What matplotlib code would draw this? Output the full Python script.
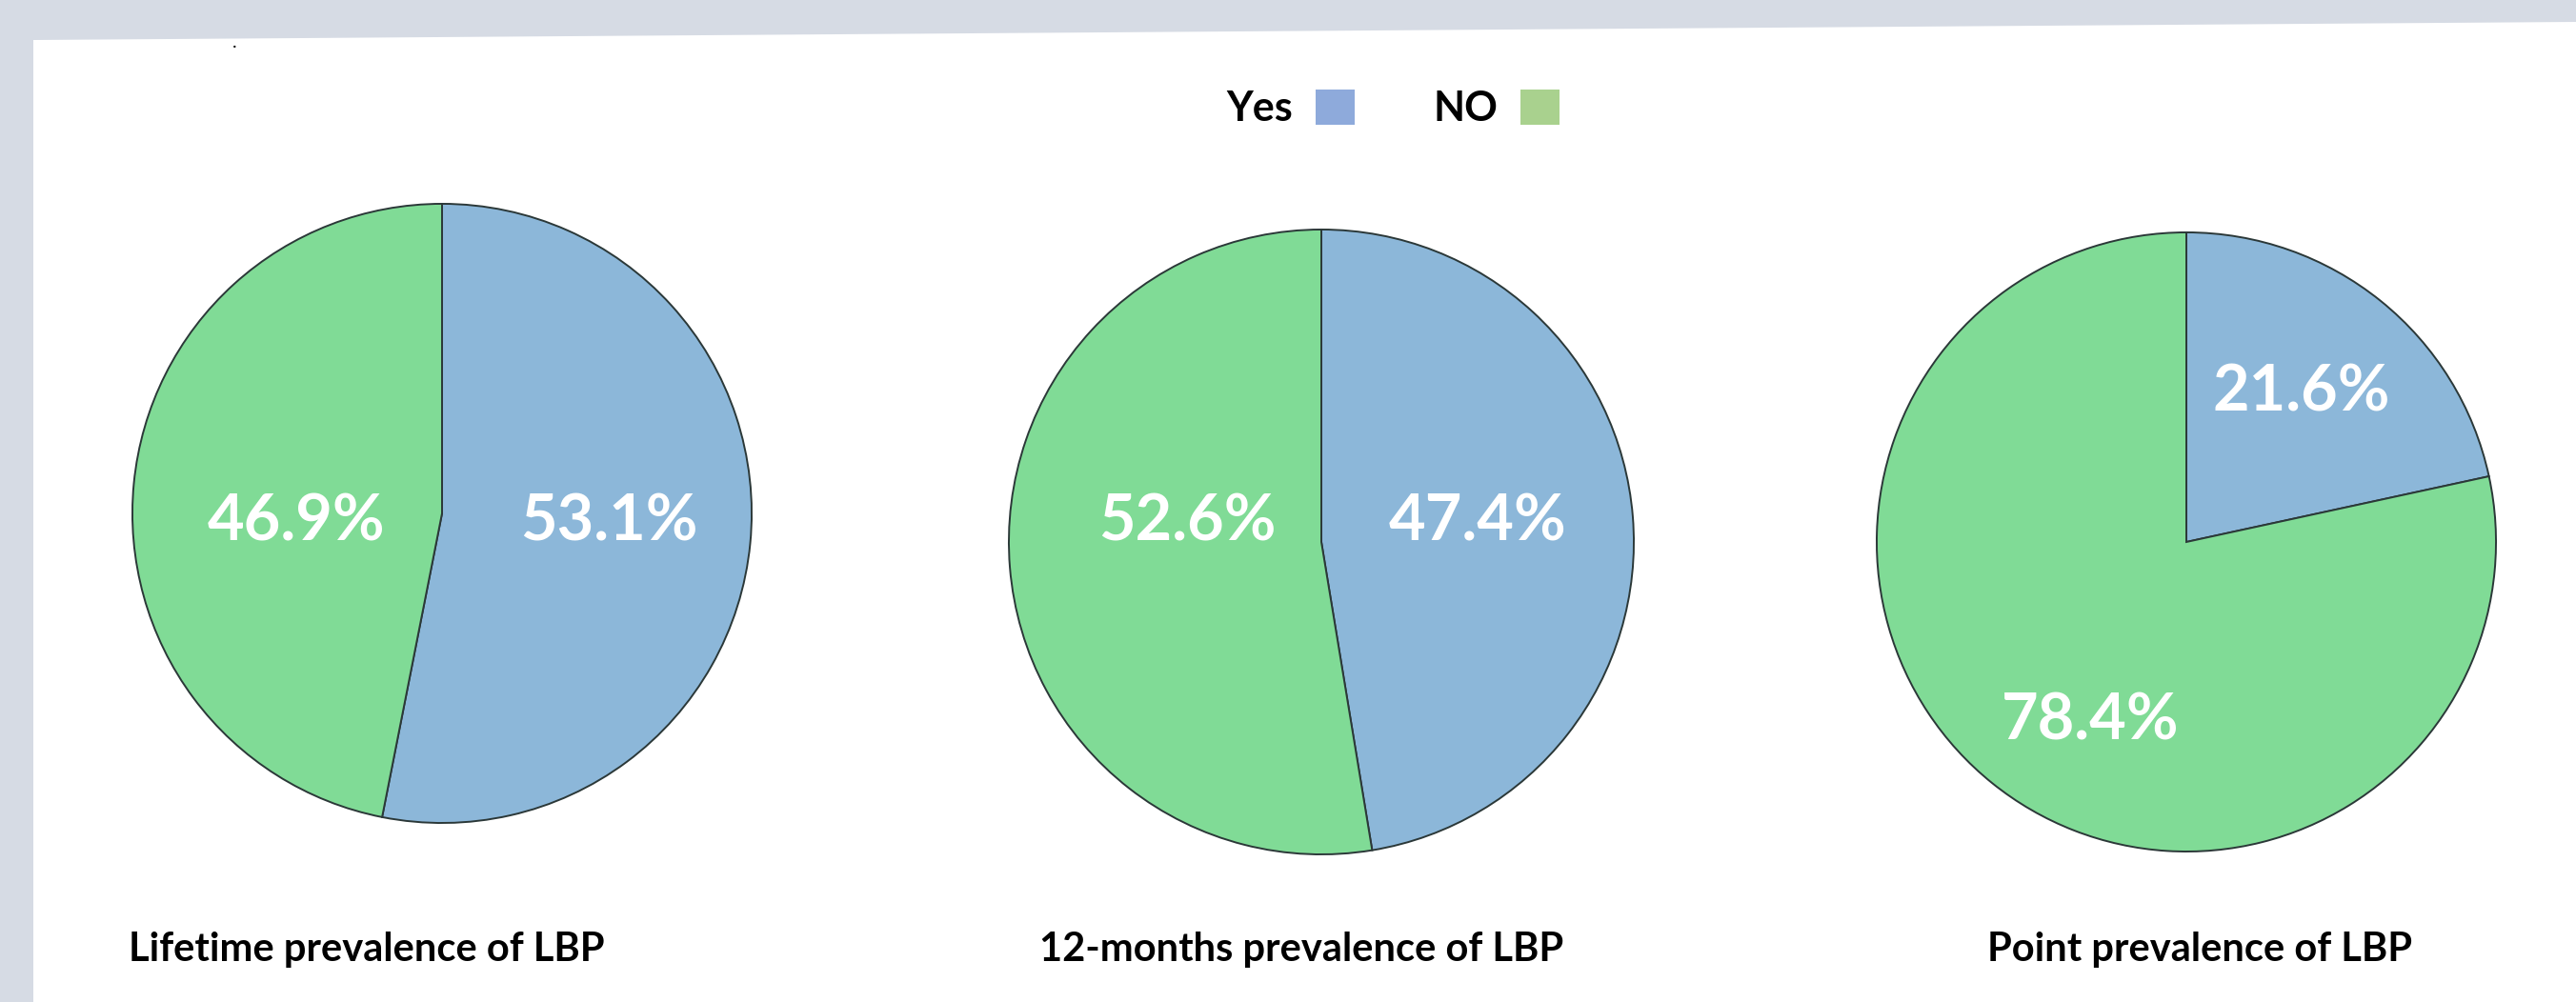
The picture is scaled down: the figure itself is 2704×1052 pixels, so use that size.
import matplotlib.pyplot as plt
from matplotlib.patches import Patch, Polygon

plt.rcParams['font.family'] = ['Lato', 'DejaVu Sans']

# data
titles = ['Lifetime prevalence of LBP', '12-months prevalence of LBP', 'Point prevalence of LBP']
yes_pct = [53.1, 47.4, 21.6]
no_pct = [46.9, 52.6, 78.4]
legend_labels = ['Yes', 'NO']

# styling
pie_colors = ['#8cb7d9', '#80db96']
legend_colors = ['#8eaadb', '#a9d18e']
W, H = 2704, 1052
centers = [(464, 539), (1387, 569), (2295, 569)]
radii = [326, 329, 326]
# label centres in units of the pie radius: (yes, no)
label_xy = [[(0.54, -0.01), (-0.47, -0.01)],
            [(0.50, 0.08), (-0.43, 0.08)],
            [(0.37, 0.50), (-0.31, -0.56)]]
title_x = [385, 1366, 2309]
title_y = 997

fig = plt.figure(figsize=(W / 100, H / 100), dpi=100)
fig.patch.set_facecolor('#d6dbe4')

# white panel (slightly skewed scan)
panel = Polygon([(35 / W, 0), (35 / W, 1 - 42 / H), (1, 1 - 23 / H), (1, 0)],
                closed=True, transform=fig.transFigure, facecolor='white',
                edgecolor='none', zorder=-5)
fig.patches.append(panel)
fig.text(246 / W, 1 - 44 / H, '.', fontsize=14, color='black', ha='center', va='center')

for i in range(3):
    cx, cy = centers[i]
    r = radii[i]
    ax = fig.add_axes([(cx - r) / W, (H - cy - r) / H, 2 * r / W, 2 * r / H], zorder=2)
    wedges, _, autotexts = ax.pie([yes_pct[i], no_pct[i]], colors=pie_colors,
                                  startangle=90, counterclock=False,
                                  autopct='%.1f%%',
                                  wedgeprops=dict(edgecolor='#2b3838', linewidth=1.4),
                                  textprops=dict(color='white', fontsize=48, fontweight='bold'))
    for t, pos in zip(autotexts, label_xy[i]):
        t.set_position(pos)
        t.set_verticalalignment('center_baseline')
    ax.set_xlim(-1.003, 1.003)
    ax.set_ylim(-1.003, 1.003)
    ax.set_aspect('equal')
    ax.axis('off')

    fig.text(title_x[i] / W, 1 - title_y / H, titles[i], fontsize=30,
             fontweight='bold', ha='center', va='center')

handles = [Patch(facecolor=c, edgecolor='none') for c in legend_colors]
fig.legend(handles, legend_labels, loc='center', bbox_to_anchor=(1462 / W, 1 - 114 / H),
           ncol=2, markerfirst=False, frameon=False,
           handlelength=0.95, handleheight=0.95, handletextpad=0.56, columnspacing=1.92,
           prop=dict(weight='bold', size=31))

fig.savefig('out.png', dpi=100, facecolor=fig.get_facecolor())
